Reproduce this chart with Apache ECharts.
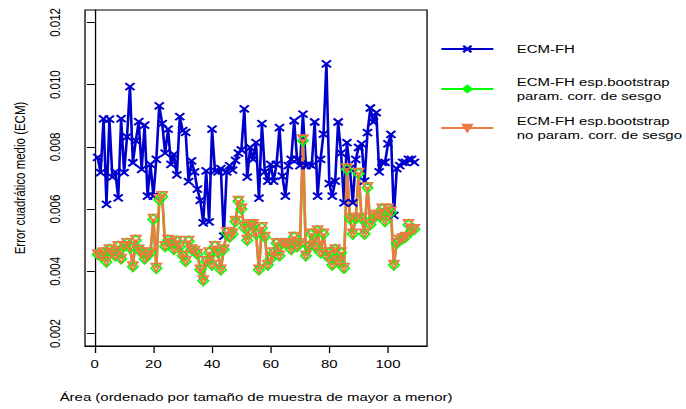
<!DOCTYPE html>
<html>
<head>
<meta charset="utf-8">
<script src="https://cdn.jsdelivr.net/npm/echarts@6/dist/echarts.min.js"></script>
<style>
    html, body { margin: 0; padding: 0; background: #fff; overflow: hidden; }
    /* the source picture is an R plot stretched sideways, so draw narrow and stretch */
    #chart { width: 528px; height: 409px; transform: scaleX(1.3); transform-origin: 0 0; }
</style>
</head>
<body>
<div id="chart"></div>
<script>
"use strict";

// series names (legend text)
var nameFH = "ECM-FH";
var nameParam = "ECM-FH esp.bootstrap\nparam. corr. de sesgo";
var nameNoParam = "ECM-FH esp.bootstrap\nno param. corr. de sesgo";

// ECM-FH, one value per area (1..109)
var ecmFH = [
    0.00766, 0.00717, 0.00890, 0.00615, 0.00889, 0.00703, 0.00720, 0.00636, 0.00891, 0.00717,
    0.00832, 0.00994, 0.00749, 0.00820, 0.00881, 0.00728, 0.00870, 0.00642, 0.00744, 0.00642,
    0.00760, 0.00932, 0.00875, 0.00780, 0.00857, 0.00744, 0.00776, 0.00710, 0.00897, 0.00852,
    0.00847, 0.00688, 0.00755, 0.00720, 0.00664, 0.00628, 0.00556, 0.00723, 0.00559, 0.00857,
    0.00723, 0.00720, 0.00730, 0.00513, 0.00720, 0.00740, 0.00725, 0.00757, 0.00780, 0.00790,
    0.00922, 0.00703, 0.00798, 0.00760, 0.00814, 0.00635, 0.00875, 0.00720, 0.00690, 0.00744,
    0.00690, 0.00744, 0.00862, 0.00706, 0.00642, 0.00740, 0.00760, 0.00884, 0.00760, 0.00740,
    0.00905, 0.00740, 0.00745, 0.00740, 0.00880, 0.00642, 0.00760, 0.00841, 0.01067, 0.00682,
    0.00642, 0.00690, 0.00880, 0.00780, 0.00620, 0.00814, 0.00730, 0.00620, 0.00760, 0.00798,
    0.00810, 0.00690, 0.00846, 0.00925, 0.00880, 0.00910, 0.00720, 0.00750, 0.00750, 0.00810,
    0.00840, 0.00580, 0.00730, 0.00740, 0.00750, 0.00750, 0.00760, 0.00760, 0.00750
];

// bootstrap, parametric, bias corrected
var bootParam = [
    0.00455, 0.00450, 0.00460, 0.00430, 0.00470, 0.00460, 0.00450, 0.00480, 0.00440, 0.00480,
    0.00490, 0.00475, 0.00415, 0.00500, 0.00470, 0.00460, 0.00440, 0.00450, 0.00460, 0.00567,
    0.00410, 0.00630, 0.00640, 0.00480, 0.00500, 0.00490, 0.00470, 0.00497, 0.00480, 0.00450,
    0.00432, 0.00497, 0.00470, 0.00465, 0.00455, 0.00405, 0.00370, 0.00432, 0.00460, 0.00420,
    0.00480, 0.00460, 0.00405, 0.00470, 0.00524, 0.00510, 0.00520, 0.00560, 0.00625, 0.00600,
    0.00540, 0.00500, 0.00550, 0.00550, 0.00520, 0.00405, 0.00540, 0.00510, 0.00420, 0.00440,
    0.00460, 0.00490, 0.00450, 0.00490, 0.00490, 0.00490, 0.00470, 0.00510, 0.00480, 0.00490,
    0.00820, 0.00450, 0.00480, 0.00520, 0.00480, 0.00530, 0.00460, 0.00520, 0.00450, 0.00460,
    0.00420, 0.00470, 0.00430, 0.00460, 0.00410, 0.00728, 0.00570, 0.00520, 0.00570, 0.00714,
    0.00570, 0.00520, 0.00669, 0.00550, 0.00570, 0.00580, 0.00580, 0.00600, 0.00560, 0.00600,
    0.00590, 0.00420, 0.00490, 0.00500, 0.00505, 0.00510, 0.00550, 0.00530, 0.00535
];

// bootstrap, non parametric, bias corrected
var bootNoParam = [
    0.00456, 0.00451, 0.00462, 0.00432, 0.00472, 0.00461, 0.00452, 0.00482, 0.00441, 0.00482,
    0.00492, 0.00477, 0.00417, 0.00502, 0.00471, 0.00462, 0.00442, 0.00451, 0.00462, 0.00570,
    0.00412, 0.00633, 0.00643, 0.00482, 0.00502, 0.00492, 0.00472, 0.00499, 0.00482, 0.00452,
    0.00434, 0.00499, 0.00472, 0.00467, 0.00457, 0.00407, 0.00372, 0.00434, 0.00462, 0.00422,
    0.00482, 0.00462, 0.00407, 0.00472, 0.00527, 0.00512, 0.00522, 0.00563, 0.00628, 0.00603,
    0.00543, 0.00502, 0.00553, 0.00553, 0.00522, 0.00407, 0.00543, 0.00512, 0.00422, 0.00442,
    0.00462, 0.00492, 0.00452, 0.00492, 0.00492, 0.00492, 0.00472, 0.00512, 0.00482, 0.00492,
    0.00825, 0.00452, 0.00482, 0.00522, 0.00482, 0.00533, 0.00462, 0.00522, 0.00452, 0.00462,
    0.00422, 0.00472, 0.00432, 0.00462, 0.00412, 0.00732, 0.00573, 0.00522, 0.00573, 0.00718,
    0.00573, 0.00522, 0.00672, 0.00553, 0.00573, 0.00583, 0.00583, 0.00603, 0.00563, 0.00603,
    0.00593, 0.00422, 0.00492, 0.00502, 0.00507, 0.00512, 0.00553, 0.00532, 0.00537
];

// tick labels
var xTicks = [0, 20, 40, 60, 80, 100];
var yTicks = [0.002, 0.004, 0.006, 0.008, 0.010, 0.012];

// area number on the x axis
var area = [];
for (var i = 1; i <= ecmFH.length; i++) area.push(i);

function pairs(vals) {
    return vals.map(function (v, k) { return [area[k], v]; });
}

var font = "'Liberation Sans', Arial, sans-serif";
var blue = "#0000CD", green = "#00FF00", orange = "#EE7942";

function legendFor(name, top, color) {
    return {
        data: [name],
        orient: "vertical",
        left: 338.5,
        top: top,
        padding: 0,
        itemWidth: 40,
        itemHeight: 8,
        itemStyle: { color: color, borderColor: color },
        textStyle: { fontFamily: font, fontSize: 11.5, color: "#000", lineHeight: 14.5, padding: [0, 0, 0, 13] }
    };
}

var chart = echarts.init(document.getElementById("chart"), null, { renderer: "svg" });

var option = {
    animation: false,
    backgroundColor: "#fff",
    grid: {
        left: 65.4, top: 10, width: 263.1, height: 336,
        show: true, borderColor: "#000", borderWidth: 1, backgroundColor: "transparent"
    },
    legend: [
        legendFor(nameFH, 41.75, blue),
        legendFor(nameParam, 74.4, green),
        legendFor(nameNoParam, 113.5, orange)
    ],
    xAxis: {
        type: "value",
        min: -3.32,
        max: 113.32,
        name: "Área (ordenado por tamaño de muestra de mayor a menor)",
        nameLocation: "middle",
        nameGap: 45,
        nameTextStyle: { fontFamily: font, fontSize: 11.5, color: "#000" },
        axisLine: { show: true, lineStyle: { color: "#000", width: 1 } },
        axisTick: { show: true, length: 7, customValues: xTicks, lineStyle: { color: "#000" } },
        axisLabel: { customValues: xTicks, margin: 12, fontFamily: font, fontSize: 11.5, color: "#000" },
        splitLine: { show: false }
    },
    yAxis: {
        type: "value",
        min: 0.0016,
        max: 0.0124,
        name: "Error cuadrático medio (ECM)",
        nameLocation: "middle",
        nameRotate: 90,
        nameGap: 44,
        nameTextStyle: { fontFamily: font, fontSize: 11.5, color: "#000" },
        axisLine: { show: true, lineStyle: { color: "#000", width: 1 } },
        axisTick: { show: true, length: 6, customValues: yTicks, lineStyle: { color: "#000" } },
        axisLabel: {
            customValues: yTicks, rotate: 90, margin: 17,
            fontFamily: font, fontSize: 11.5, color: "#000",
            formatter: function (v) { return v.toFixed(3); }
        },
        splitLine: { show: false }
    },
    series: [
        {
            name: nameFH,
            type: "line",
            data: pairs(ecmFH),
            symbol: "path://M0,0L10,10M10,0L0,10",
            symbolSize: 7,
            itemStyle: { color: blue, borderColor: blue, borderWidth: 1.8 },
            lineStyle: { color: blue, width: 2 },
            emphasis: { disabled: true }
        },
        {
            name: nameParam,
            type: "line",
            data: pairs(bootParam),
            symbol: "diamond",
            symbolSize: [8, 10],
            itemStyle: { color: "rgba(0,0,0,0)", borderColor: green, borderWidth: 1.5 },
            lineStyle: { color: green, width: 2 },
            emphasis: { disabled: true }
        },
        {
            name: nameNoParam,
            type: "line",
            data: pairs(bootNoParam),
            symbol: "triangle",
            symbolRotate: 180,
            symbolSize: [7.5, 8],
            itemStyle: { color: "rgba(0,0,0,0)", borderColor: orange, borderWidth: 1.5 },
            lineStyle: { color: orange, width: 2 },
            emphasis: { disabled: true }
        }
    ]
};

chart.setOption(option);
</script>
</body>
</html>
